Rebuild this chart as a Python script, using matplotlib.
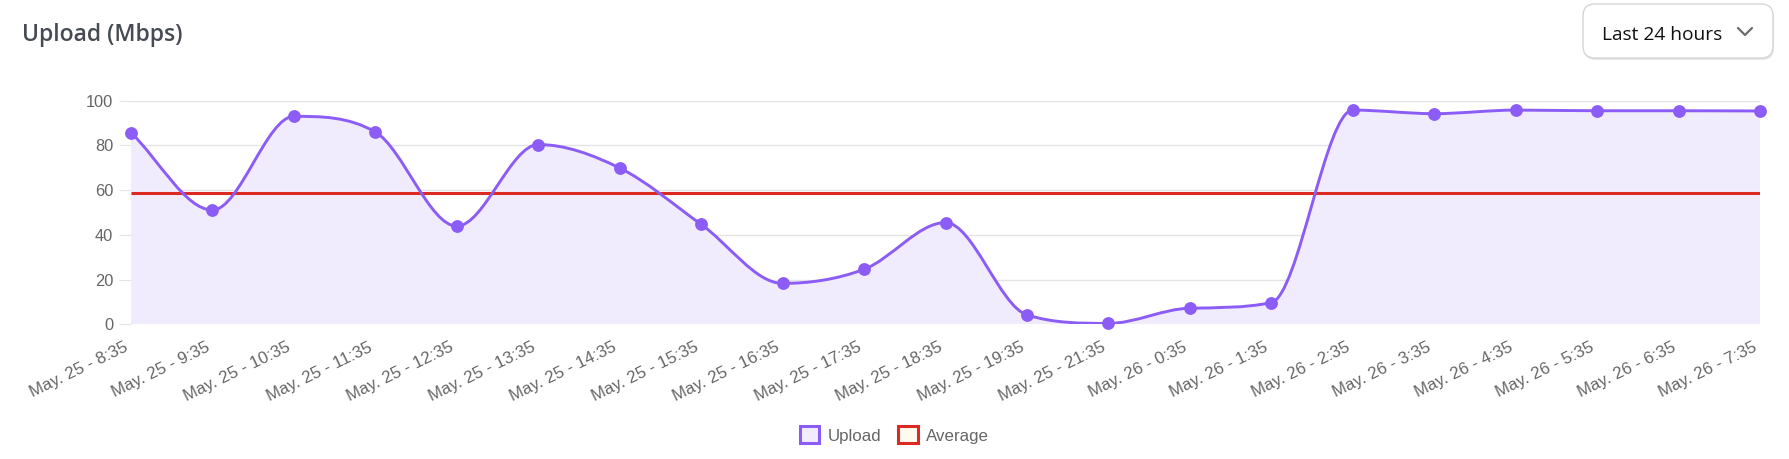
import numpy as np
import matplotlib
matplotlib.use("Agg")
import matplotlib.pyplot as plt
import matplotlib.transforms as mtransforms
from matplotlib.path import Path
from matplotlib.patches import PathPatch, FancyBboxPatch, Patch
from matplotlib.lines import Line2D

# data
time_labels = ["May. 25 - 8:35", "May. 25 - 9:35", "May. 25 - 10:35", "May. 25 - 11:35",
               "May. 25 - 12:35", "May. 25 - 13:35", "May. 25 - 14:35", "May. 25 - 15:35",
               "May. 25 - 16:35", "May. 25 - 17:35", "May. 25 - 18:35", "May. 25 - 19:35",
               "May. 25 - 21:35", "May. 26 - 0:35", "May. 26 - 1:35", "May. 26 - 2:35",
               "May. 26 - 3:35", "May. 26 - 4:35", "May. 26 - 5:35", "May. 26 - 6:35",
               "May. 26 - 7:35"]
upload = [85.7, 51.1, 93.0, 86.0, 43.9, 80.4, 69.9, 44.7, 18.3, 24.6, 45.5,
          4.2, 0.4, 7.2, 9.7, 95.8, 94.2, 95.8, 95.5, 95.5, 95.4]
average = np.mean(upload)
y_ticks = [0, 20, 40, 60, 80, 100]

PURPLE = "#8b5cf6"
PURPLE_FILL = "#f1ecfd"
RED = "#dc2a22"
GRID = "#e4e4e7"
TICK_TEXT = "#666666"

W, H = 1789, 459
fig = plt.figure(figsize=(W / 100, H / 100), dpi=100)
fig.patch.set_facecolor("white")

# plot area in pixels: left 131, right 1760, top 100.7, bottom 324.3
ax = fig.add_axes([131 / W, 1 - 324.3 / H, (1760 - 131) / W, (324.3 - 100.7) / H])
x = np.arange(len(upload))
ax.set_xlim(0, len(upload) - 1)
ax.set_ylim(0, 100)


def monotone_path(xs, ys):
    # monotone cubic (Fritsch-Carlson), same as chart.js cubicInterpolationMode 'monotone'
    xs = np.asarray(xs, float)
    ys = np.asarray(ys, float)
    n = len(xs)
    dk = np.diff(ys) / np.diff(xs)
    mk = np.zeros(n)
    mk[0] = dk[0]
    mk[-1] = dk[-1]
    for i in range(1, n - 1):
        if dk[i - 1] * dk[i] > 0:
            mk[i] = (dk[i - 1] + dk[i]) / 2
    for i in range(n - 1):
        if dk[i] == 0:
            mk[i] = mk[i + 1] = 0
            continue
        a = mk[i] / dk[i]
        b = mk[i + 1] / dk[i]
        sq = a * a + b * b
        if sq > 9:
            tau = 3 / np.sqrt(sq)
            mk[i] = a * tau * dk[i]
            mk[i + 1] = b * tau * dk[i]
    verts = [(xs[0], ys[0])]
    codes = [Path.MOVETO]
    for i in range(n - 1):
        d = (xs[i + 1] - xs[i]) / 3
        verts += [(xs[i] + d, ys[i] + mk[i] * d),
                  (xs[i + 1] - d, ys[i + 1] - mk[i + 1] * d),
                  (xs[i + 1], ys[i + 1])]
        codes += [Path.CURVE4] * 3
    return np.array(verts), codes


verts, codes = monotone_path(x, upload)

# fill under the curve
fill_verts = np.vstack([verts, [[x[-1], 0], [x[0], 0], verts[0]]])
fill_codes = codes + [Path.LINETO, Path.LINETO, Path.CLOSEPOLY]
ax.add_patch(PathPatch(Path(fill_verts, fill_codes), facecolor=PURPLE_FILL,
                       edgecolor="none", zorder=1))

for yt in y_ticks:
    ax.axhline(yt, color=GRID, lw=1.0, zorder=0.5)

ax.add_patch(PathPatch(Path(verts, codes), facecolor="none", edgecolor=PURPLE,
                       lw=2.1, zorder=3, capstyle="round", joinstyle="round"))
ax.plot(x, upload, "o", color=PURPLE, ms=8.2, zorder=4, clip_on=False)

ax.plot([x[0], x[-1]], [average, average], color=RED, lw=2.2, zorder=2.5,
        solid_capstyle="butt")

for s in ax.spines.values():
    s.set_visible(False)
ax.set_facecolor("none")

ax.set_yticks(y_ticks)
ax.tick_params(axis="y", length=8.6, width=0.8, color=GRID, pad=4.3,
               labelsize=11.8, labelcolor=TICK_TEXT)
ax.set_xticks(x)
ax.set_xticklabels(time_labels, rotation=26, ha="right", va="center",
                   rotation_mode="anchor")
ax.tick_params(axis="x", length=0, pad=16, labelsize=12.2, labelcolor=TICK_TEXT)
shift = mtransforms.ScaledTranslation(-4 / 100, 0, fig.dpi_scale_trans)
for lab in ax.get_xticklabels():
    lab.set_transform(lab.get_transform() + shift)
for lab in ax.get_xticklabels() + ax.get_yticklabels():
    lab.set_fontfamily("Liberation Sans")

# title
fig.text(22 / W, 1 - 41 / H, "Upload (Mbps)", fontsize=16.6, fontweight="semibold",
         color="#464a54", family="Open Sans", va="baseline", ha="left")

# dropdown box
inch = fig.dpi_scale_trans
bx0, bx1 = 1583 / 100, 1773 / 100
by0, by1 = (H - 58) / 100, (H - 4) / 100
fig.patches.append(FancyBboxPatch((bx0 + 0.01, by0 - 0.02), bx1 - bx0, by1 - by0,
                                  boxstyle="round,pad=0,rounding_size=0.12",
                                  transform=inch, facecolor="#e6e6e6",
                                  edgecolor="none", zorder=1))
fig.patches.append(FancyBboxPatch((bx0, by0), bx1 - bx0, by1 - by0,
                                  boxstyle="round,pad=0,rounding_size=0.12",
                                  transform=inch, facecolor="white",
                                  edgecolor="#d6d6d6", lw=1.0, zorder=2))
fig.text(1602 / W, 1 - 40 / H, "Last 24 hours", fontsize=13.8, color="#111111",
         family="Open Sans", va="baseline", ha="left", zorder=3)
fig.lines.append(Line2D([1738 / 100, 1745 / 100, 1752 / 100],
                        [(H - 28) / 100, (H - 35) / 100, (H - 28) / 100],
                        transform=inch, color="#6b6b73", lw=1.6, zorder=3,
                        solid_capstyle="round", solid_joinstyle="round"))

# legend
handles = [Patch(facecolor=PURPLE_FILL, edgecolor=PURPLE, lw=2.2, label="Upload"),
           Patch(facecolor="#fffbee", edgecolor=RED, lw=2.2, label="Average")]
leg = fig.legend(handles=handles, loc="center", bbox_to_anchor=(0.5, 1 - 435 / H),
                 ncol=2, frameon=False, handlelength=1.15, handleheight=1.15,
                 handletextpad=0.5, columnspacing=1.0,
                 prop={"family": "Liberation Sans", "size": 12.2})
for t in leg.get_texts():
    t.set_color(TICK_TEXT)

fig.savefig("out.png", dpi=100)
